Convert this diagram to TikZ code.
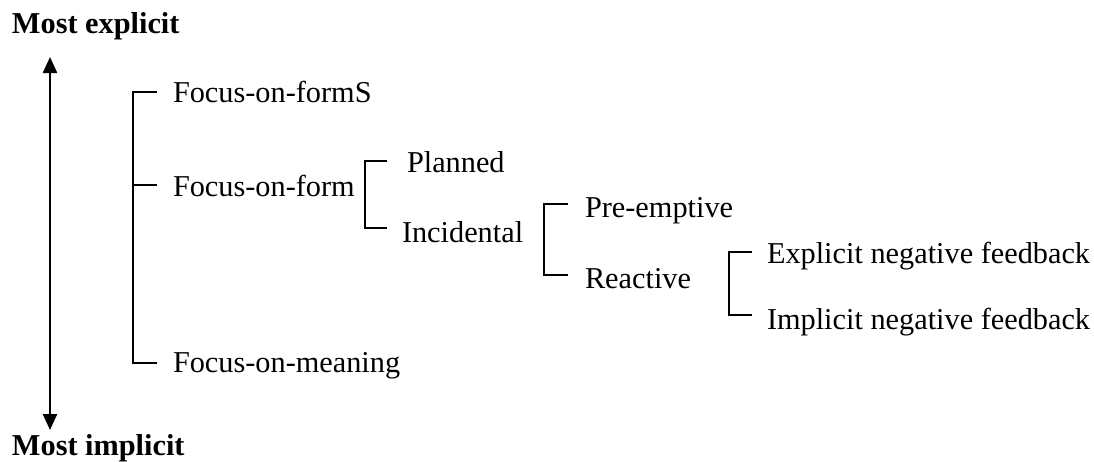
\documentclass[tikz,border=0pt]{standalone}
\usepackage{fontspec}
\setmainfont{Liberation Serif}
\usetikzlibrary{arrows.meta}
\tikzset{
  lbl/.style={anchor=base west, inner sep=0pt, outer sep=0pt, font=\fontsize{30.3pt}{36pt}\selectfont},
  ttl/.style={lbl, font=\fontsize{30.3pt}{36pt}\selectfont\bfseries},
  br/.style={line width=2pt, line join=miter},
  scale arrow/.style={line width=2.4pt, {Triangle[width=14pt,length=16pt]}-{Triangle[width=14pt,length=16pt]}}
}
\begin{document}
\begin{tikzpicture}[x=1pt,y=-1pt]
\useasboundingbox (0,0) rectangle (1094,461);
% titles
\node[ttl] (top) at (12,33) {Most explicit};
\node[ttl] (bot) at (12,455) {Most implicit};
\coordinate (at) at (50,57);
\coordinate (ab) at (50,430);
\draw[scale arrow] (at) -- (ab);
% level 1
\node[lbl] (fs) at (173,102) {Focus-on-formS};
\node[lbl] (ff) at (173,196) {Focus-on-form};
\node[lbl] (fm) at (173,372) {Focus-on-meaning};
\coordinate (b1t) at (133,92);
\coordinate (b1m) at (133,185);
\coordinate (b1b) at (133,363);
\draw[br] (157,92) -- (b1t) -- (b1b) -- (157,363);
\draw[br] (b1m) -- (157,185);
% level 2
\node[lbl] (pl) at (407,172) {Planned};
\node[lbl] (in) at (402,242) {Incidental};
\coordinate (b2t) at (365,161);
\coordinate (b2b) at (365,228);
\draw[br] (387,161) -- (b2t) -- (b2b) -- (387,228);
% level 3
\node[lbl] (pe) at (585,217) {Pre-emptive};
\node[lbl] (re) at (585,288) {Reactive};
\coordinate (b3t) at (544,204);
\coordinate (b3b) at (544,275);
\draw[br] (568,204) -- (b3t) -- (b3b) -- (568,275);
% level 4
\node[lbl] (ex) at (767,263) {Explicit negative feedback};
\node[lbl] (im) at (767,329) {Implicit negative feedback};
\coordinate (b4t) at (729,252);
\coordinate (b4b) at (729,315);
\draw[br] (752,252) -- (b4t) -- (b4b) -- (752,315);
\end{tikzpicture}
\end{document}
